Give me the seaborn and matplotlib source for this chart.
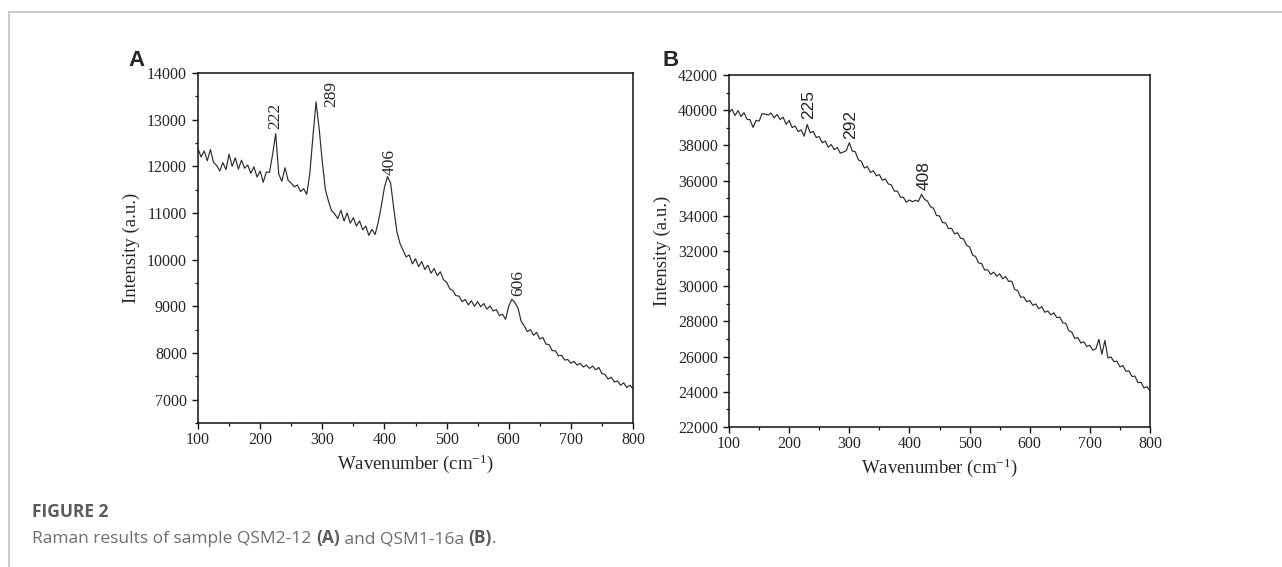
import numpy as np
import pandas as pd
import matplotlib
matplotlib.use("Agg")
import matplotlib.pyplot as plt
import seaborn as sns
from matplotlib.ticker import MultipleLocator

# Espectros Raman (passo de 5 cm-1)
wavenumber = np.arange(100, 801, 5)

intensity_a = [
    12380, 12200, 12330, 12120, 12360, 12080, 12020, 11900, 12080, 11930,
    12260, 12000, 12180, 11940, 12130, 11960, 12030, 11850, 11990, 11770,
    11900, 11660, 11880, 11870, 12250, 12700, 11830, 11680, 11970, 11700,
    11640, 11560, 11600, 11460, 11520, 11400, 11850, 12650, 13380, 12800,
    12100, 11500, 11250, 11050, 10980, 10880, 11060, 10830, 11000, 10780,
    10900, 10720, 10830, 10640, 10720, 10520, 10650, 10540, 10800, 11150,
    11550, 11780, 11640, 11100, 10600, 10350, 10200, 10060, 10100, 9910,
    10020, 9850, 9960, 9790, 9880, 9710, 9810, 9660, 9740, 9570,
    9520, 9380, 9340, 9230, 9220, 9100, 9150, 9030, 9120, 9000,
    9100, 8990, 9060, 8940, 9010, 8900, 8930, 8800, 8830, 8720,
    9000, 9150, 9080, 8960, 8680, 8580, 8460, 8500, 8380, 8440,
    8300, 8330, 8190, 8180, 8050, 8050, 7940, 7950, 7850, 7860,
    7780, 7820, 7740, 7780, 7700, 7740, 7670, 7720, 7640, 7690,
    7560, 7540, 7440, 7480, 7380, 7400, 7310, 7360, 7260, 7310,
    7230,
]

intensity_b = [
    39850, 40050, 39700, 39980, 39640, 39860, 39480, 39460, 39020, 39420,
    39380, 39800, 39780, 39720, 39840, 39560, 39760, 39470, 39600, 39200,
    39420, 39010, 39100, 38790, 38880, 38520, 39180, 38720, 38800, 38450,
    38500, 38150, 38250, 37900, 38050, 37760, 37880, 37560, 37620, 37700,
    38150, 37680, 37640, 37180, 37100, 36720, 36800, 36470, 36550, 36270,
    36340, 36020, 36090, 35810, 35750, 35400, 35400, 35060, 35050, 34770,
    34900, 34800, 34880, 34820, 35220, 34940, 34830, 34520, 34430, 34020,
    33990, 33620, 33590, 33270, 33290, 32970, 33040, 32720, 32690, 32320,
    32230, 31770, 31690, 31320, 31290, 30920, 30940, 30670, 30800, 30570,
    30700, 30420, 30550, 30270, 30290, 29820, 29740, 29370, 29390, 29120,
    29190, 28920, 28990, 28720, 28840, 28520, 28590, 28370, 28490, 28220,
    28240, 27920, 27890, 27470, 27390, 27020, 27090, 26770, 26840, 26570,
    26640, 26370, 26440, 26980, 26130, 26920, 25930, 25980, 25720, 25740,
    25420, 25490, 25170, 25190, 24870, 24890, 24520, 24540, 24220, 24290,
    24060,
]

# picos anotados: (texto, posição x, posição y do texto)
peaks_a = [("222", 224, 13090), ("289", 314, 13540), ("406", 408, 12100), ("606", 616, 9500)]
peaks_b = [("225", 232, 40300), ("292", 303, 39200), ("408", 424, 36300)]

df_a = pd.DataFrame({"Wavenumber": wavenumber, "Intensity": intensity_a})
df_b = pd.DataFrame({"Wavenumber": wavenumber, "Intensity": intensity_b})

sns.set_style("ticks")
plt.rcParams["font.family"] = ["Liberation Serif", "DejaVu Serif"]
plt.rcParams["mathtext.default"] = "regular"

fig = plt.figure(figsize=(12.82, 5.67), dpi=100)
ax_a = fig.add_axes([198 / 1282, 1 - 423 / 567, 435 / 1282, 350 / 567])
ax_b = fig.add_axes([729 / 1282, 1 - 427 / 567, 421 / 1282, 352 / 567])

sns.lineplot(data=df_a, x="Wavenumber", y="Intensity", ax=ax_a, color="#2b2b2b", linewidth=0.85)
sns.lineplot(data=df_b, x="Wavenumber", y="Intensity", ax=ax_b, color="#2b2b2b", linewidth=0.85)

ax_a.set_ylim(6500, 14000)
ax_a.yaxis.set_major_locator(MultipleLocator(1000))
ax_a.yaxis.set_minor_locator(MultipleLocator(500))
ax_b.set_ylim(22000, 42000)
ax_b.yaxis.set_major_locator(MultipleLocator(2000))
ax_b.yaxis.set_minor_locator(MultipleLocator(1000))

for ax in (ax_a, ax_b):
    ax.set_xlim(100, 800)
    ax.xaxis.set_major_locator(MultipleLocator(100))
    ax.xaxis.set_minor_locator(MultipleLocator(50))
    for s in ax.spines.values():
        s.set_visible(True)
        s.set_linewidth(1.1)
        s.set_color("#111111")
    ax.tick_params(which="major", direction="out", length=4, width=1.0, labelsize=11.5, color="#111111")
    ax.tick_params(which="minor", direction="out", length=2.5, width=0.9, color="#111111")
    ax.tick_params(axis="x", pad=2.5)
    ax.tick_params(axis="y", pad=4)
    ax.set_xlabel("Wavenumber (cm$^{-1}$)", fontsize=13.5, labelpad=3)
    ax.set_ylabel("Intensity (a.u.)", fontsize=13.5, labelpad=5)

for txt, x, y in peaks_a:
    ax_a.text(x, y, txt, rotation=90, ha="center", va="center", fontsize=12.5,
              family=["Liberation Serif"])
for txt, x, y in peaks_b:
    ax_b.text(x, y, txt, rotation=90, ha="center", va="center", fontsize=12.5,
              family=["Liberation Sans"])

# letras dos painéis
fig.text(128 / 1282, 1 - 66 / 567, "A", fontsize=16, fontweight="bold", family=["Liberation Sans"])
fig.text(663 / 1282, 1 - 66 / 567, "B", fontsize=16, fontweight="bold", family=["Liberation Sans"])

# moldura cinza do artigo
fig.add_artist(plt.Line2D([9 / 1282, 1], [1 - 12 / 567, 1 - 12 / 567], color="#c4c4c4", linewidth=1.2))
fig.add_artist(plt.Line2D([9 / 1282, 9 / 1282], [0, 1 - 12 / 567], color="#c4c4c4", linewidth=1.2))

# legenda da figura
cap_font = ["Open Sans", "DejaVu Sans"]
fig.text(32 / 1282, 1 - 517 / 567, "FIGURE 2", fontsize=12.5, fontweight="bold", color="#5a5a5a", family=cap_font)

pieces = [("Raman results of sample QSM2-12 ", "normal"), ("(A)", "bold"),
          (" and QSM1-16a ", "normal"), ("(B)", "bold"), (".", "normal")]
fig.canvas.draw()
renderer = fig.canvas.get_renderer()
x_px = 32
for txt, w in pieces:
    t = fig.text(x_px / 1282, 1 - 543 / 567, txt, fontsize=12.5, fontweight=w,
                 color="#5a5a5a" if w == "bold" else "#6e6e6e", family=cap_font)
    bb = t.get_window_extent(renderer=renderer)
    x_px += bb.width

fig.savefig("out.png", dpi=100)
